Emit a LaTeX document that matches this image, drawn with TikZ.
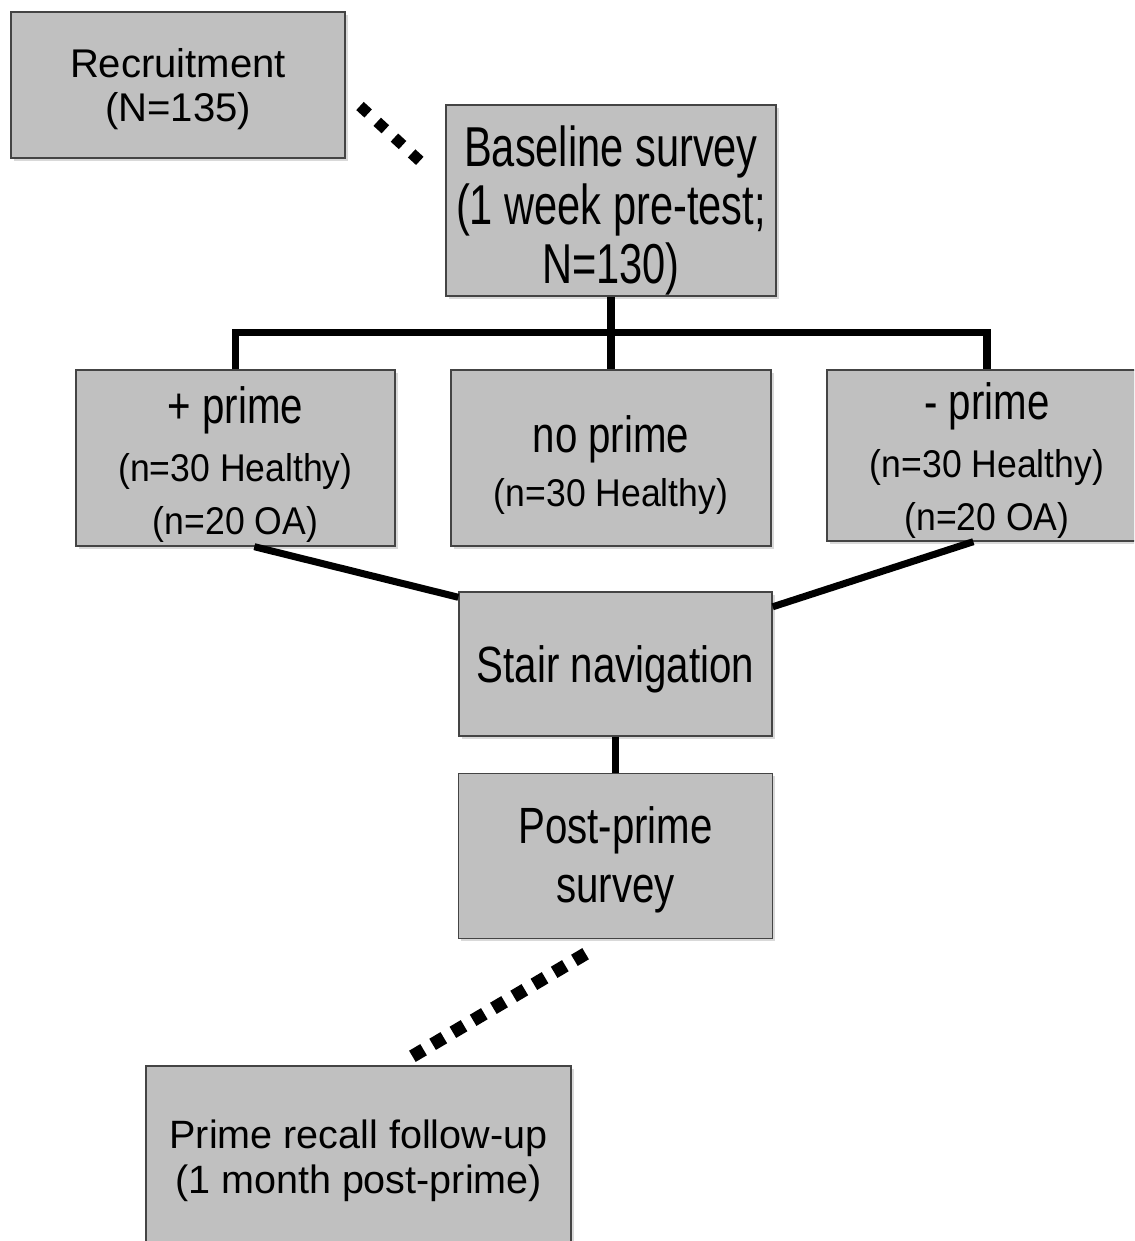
\documentclass[tikz,border=0pt]{standalone}
\usepackage{fontspec}
\setmainfont{Liberation Sans}
\newfontfamily\basefont[FakeStretch=0.74]{Liberation Sans}
\newfontfamily\midfont[FakeStretch=0.79]{Liberation Sans}
\newfontfamily\subfont[FakeStretch=0.92]{Liberation Sans}
\usetikzlibrary{positioning,shadows}
\definecolor{boxgrey}{HTML}{C0C0C0}
\definecolor{edgegrey}{HTML}{444444}
\newcommand{\topgap}[1]{\rule{0pt}{#1}}

\begin{document}
\begin{tikzpicture}[x=0.02cm,y=-0.02cm]
        \tikzstyle{flowbox}=[rectangle,draw=edgegrey,line width=0.8pt,fill=boxgrey,inner sep=0pt,align=center,
            drop shadow={shadow xshift=1.6pt,shadow yshift=-1.6pt,opacity=0.3}]
        \tikzstyle{link}=[line width=4pt]
        \tikzstyle{diamonddots}=[line width=6.3pt,dash pattern=on 6.3pt off 7pt]
        \tikzstyle{squaredots}=[line width=7.4pt,dash pattern=on 7.4pt off 6pt]
        \useasboundingbox (0,0) rectangle (1134,1241);
        \clip (0,0) rectangle (1134,1241);
        \node[flowbox,minimum width=6.68cm,minimum height=2.92cm,font=\fontsize{22.8pt}{25pt}\selectfont] (recruit) at (178,85) {\topgap{21pt}Recruitment\\(N=135)};
        \node[flowbox,minimum width=6.6cm,minimum height=3.82cm,font=\basefont\fontsize{32pt}{33.3pt}\selectfont] (base) at (611,200.5) {\topgap{34.3pt}Baseline survey\\(1 week pre-test;\\N=130)};
        \node[flowbox,minimum width=6.38cm,minimum height=3.52cm,font=\subfont\fontsize{22pt}{30pt}\selectfont] (plus) at (235.5,458)
            {{\midfont\fontsize{29pt}{30pt}\selectfont\topgap{28.8pt}+ prime}\\[3pt](n=30 Healthy)\\(n=20 OA)};
        \node[flowbox,minimum width=6.4cm,minimum height=3.52cm,font=\subfont\fontsize{22pt}{30pt}\selectfont] (noprime) at (611,458)
            {{\midfont\fontsize{29pt}{30pt}\selectfont\topgap{28.8pt}no prime}\\[1pt](n=30 Healthy)};
        \node[flowbox,minimum width=6.4cm,minimum height=3.42cm,font=\subfont\fontsize{22pt}{30pt}\selectfont] (minus) at (987,455.5)
            {{\midfont\fontsize{29pt}{30pt}\selectfont\topgap{26.5pt}- prime}\\[3pt](n=30 Healthy)\\(n=20 OA)};
        \node[flowbox,minimum width=6.26cm,minimum height=2.88cm,font=\midfont\fontsize{29pt}{34pt}\selectfont] (stair) at (615.5,664) {\topgap{26.9pt}Stair navigation};
        \node[flowbox,minimum width=6.28cm,minimum height=3.3cm,font=\midfont\fontsize{29pt}{34pt}\selectfont] (post) [below=0.72cm of stair] {\topgap{25.4pt}Post-prime\\survey};
        \node[flowbox,minimum width=8.5cm,minimum height=3.64cm,font=\fontsize{22.5pt}{26pt}\selectfont] (recall) at (358.5,1157) {\topgap{20.7pt}Prime recall follow-up\\(1 month post-prime)};
        \coordinate (recruitdot) at (360,106);
        \coordinate (basedot) at (421,162);
        \coordinate (postdot) at (585.6,953.7);
        \coordinate (recalldot) at (412.4,1056.3);
        \draw[diamonddots] (recruitdot) -- (basedot);
        \draw[link] (base.south) -- (noprime.north);
        \draw[link] (plus.north) -- ++(0,-37) -| (minus.north);
        \draw[link] (plus.-78) -- (stair.157);
        \draw[link] (minus.-99) -- (stair.20);
        \draw[link] (stair.south) -- (post.north);
        \draw[squaredots] (postdot) -- (recalldot);
    \end{tikzpicture}
\end{document}
